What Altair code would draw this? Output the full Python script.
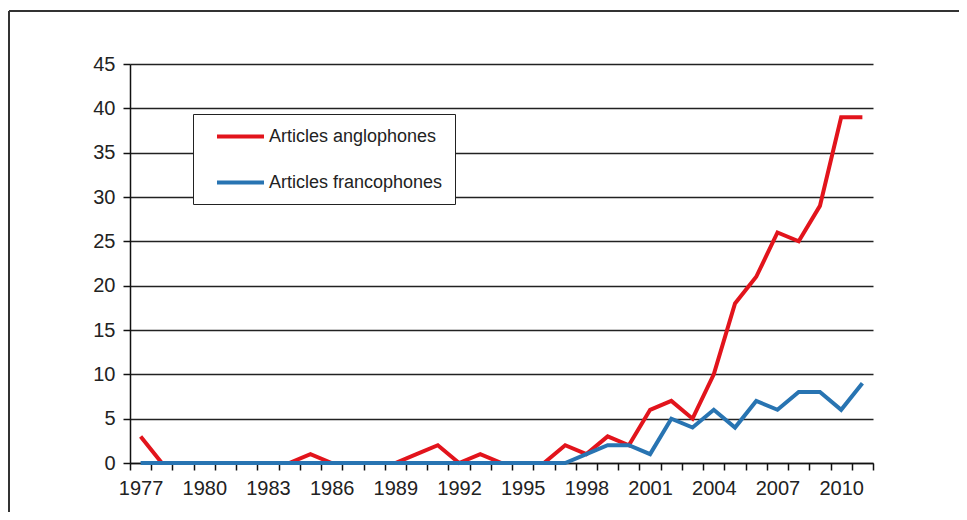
import altair as alt
import pandas as pd

years = list(range(1977, 2012))
anglophones = [3, 0, 0, 0, 0, 0, 0, 0, 1, 0, 0, 0, 0, 1, 2, 0, 1, 0, 0, 0,
               2, 1, 3, 2, 6, 7, 5, 10, 18, 21, 26, 25, 29, 39, 39]
francophones = [0] * 21 + [1, 2, 2, 1, 5, 4, 6, 4, 7, 6, 8, 8, 6, 9]
series_names = ["Articles anglophones", "Articles francophones"]
series_colors = ["#E2141C", "#2874B2"]
y_ticks = list(range(0, 50, 5))

rows = []
for name, vals in zip(series_names, [anglophones, francophones]):
    for yr, v in zip(years, vals):
        rows.append({"year": yr, "value": v, "serie": name})
df = pd.DataFrame(rows)

FONT = "Liberation Sans"

lines = alt.Chart(df).mark_line(strokeWidth=4).encode(
    x=alt.X("year:O", bandPosition=0.5,
            scale=alt.Scale(type="band", paddingInner=0, paddingOuter=0),
            axis=alt.Axis(title=None, labelAngle=0, tickBand="extent", tickSize=7,
                          labelExpr="(datum.value - 1977) % 3 == 0 ? datum.label : ''",
                          labelOverlap=False, labelFontSize=20, labelFont=FONT,
                          labelColor="#222", labelPadding=8, domainColor="#111",
                          domainWidth=1.5, tickColor="#111", tickWidth=1.5, grid=False)),
    y=alt.Y("value:Q", scale=alt.Scale(domain=[0, 45], nice=False),
            axis=alt.Axis(title=None, values=y_ticks, tickSize=7, labelFontSize=20,
                          labelFont=FONT, labelColor="#222", labelPadding=8,
                          domainColor="#111", domainWidth=1.5, tickColor="#111",
                          tickWidth=1.5, gridColor="#222", gridWidth=1.5)),
    color=alt.Color("serie:N",
                    scale=alt.Scale(domain=series_names, range=series_colors),
                    legend=alt.Legend(orient="none", legendX=63, legendY=50, title=None,
                                      symbolType="M-4.53,0H1", symbolSize=289,
                                      symbolStrokeWidth=4, labelFontSize=18,
                                      labelFont=FONT, labelColor="#222", labelLimit=0,
                                      strokeColor="#222", fillColor="white",
                                      padding=12, rowPadding=26, labelOffset=3,
                                      symbolOffset=40)),
)

frame_data = alt.Data(values=[{}])
frame_left = alt.Chart(frame_data).mark_rule(color="#333", strokeWidth=2).encode(
    x=alt.value(-121), y=alt.value(-53), y2=alt.value(470))
frame_top = alt.Chart(frame_data).mark_rule(color="#333", strokeWidth=2).encode(
    x=alt.value(-121), x2=alt.value(900), y=alt.value(-53))

chart = alt.layer(frame_left, frame_top, lines).properties(
    width=743, height=399,
    autosize=alt.AutoSizeParams(type="none"),
    padding={"left": 122, "top": 56, "right": 86, "bottom": 49},
    background="white",
).configure_view(stroke=None)

chart.save("out.html", embed_options={"renderer": "svg", "actions": False})
